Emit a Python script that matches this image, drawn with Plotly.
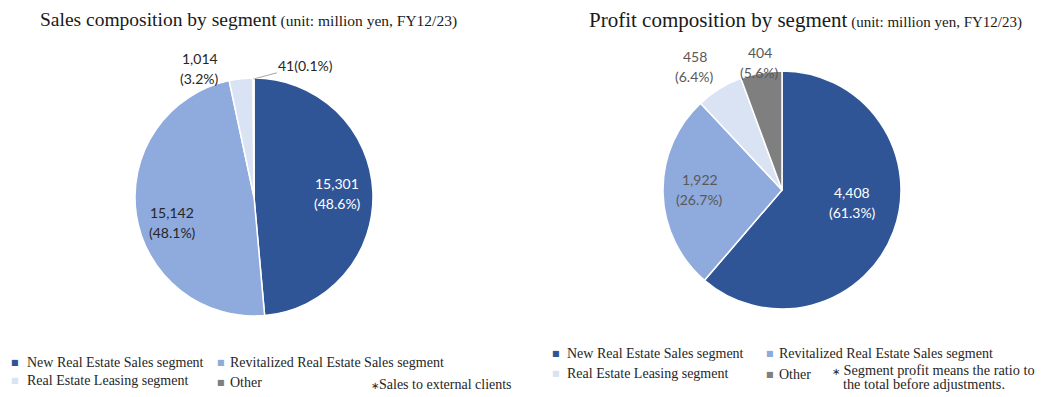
import math
import plotly.graph_objects as go

# ---------------- data ----------------
segments = ["New Real Estate Sales segment", "Revitalized Real Estate Sales segment",
            "Real Estate Leasing segment", "Other"]
sales_values = [15301, 15142, 1014, 41]
sales_pct = [48.6, 48.1, 3.2, 0.1]
profit_values = [4408, 1922, 458, 404]
profit_pct = [61.3, 26.7, 6.4, 5.6]

colors = ["#2F5597", "#8FAADC", "#DAE3F3", "#7F7F7F"]

# the page body has an 8px margin; figure sized to fill the rest of the window
OFF = 8
W, H = 1036, 389

def px(x):
    return (x - OFF) / W

def py(y):
    return 1 - (y - OFF) / H

# layout geometry (screen pixels)
sales_c, sales_r = (254, 197), 119
profit_c, profit_r = (782, 190), 119

# label placement: (radius fraction, angle nudge deg, one_line)
sales_lab = [(0.70, 0, False), (0.72, -8.5, False), (1.175, -16.6, False), (1.19, 21.7, True)]
profit_lab = [(0.60, -10, False), (0.69, 1.3, False), (1.27, -3.6, False), (1.09, 0.3, False)]

fig = go.Figure()


def add_pie(values, center, r, name):
    cx, cy = center
    fig.add_trace(go.Pie(
        labels=segments, values=values, sort=False, direction="clockwise", rotation=0,
        marker=dict(colors=colors, line=dict(color="white", width=1.5)),
        textinfo="none", hoverinfo="label+value+percent", showlegend=False, name=name,
        domain=dict(x=[px(cx - r), px(cx + r)], y=[py(cy + r), py(cy - r)]),
    ))


add_pie(sales_values, sales_c, sales_r, "Sales")
add_pie(profit_values, profit_c, profit_r, "Profit")

annotations = []
LABEL_FONT = "Lato, 'Open Sans', sans-serif"


def add_labels(values, pcts, center, r, place, dark_color):
    cx, cy = center
    total = sum(values)
    cum = 0
    for i, v in enumerate(values):
        mid = (cum + v / 2) / total * 360
        cum += v
        frac, nudge, one_line = place[i]
        ang = math.radians(mid + nudge)
        lx = cx + frac * r * math.sin(ang)
        ly = cy - frac * r * math.cos(ang)
        col = "white" if i == 0 else dark_color
        if one_line:
            # leader line from the slice edge to the label
            ex = cx + (r - 1) * math.sin(math.radians(mid))
            ey = cy - (r - 1) * math.cos(math.radians(mid))
            annotations.append(dict(
                x=px(ex), y=py(ey), xref="paper", yref="paper",
                text=f"{v:,}({pcts[i]}%)", font=dict(family=LABEL_FONT, size=14, color=col),
                showarrow=True, arrowhead=0, arrowwidth=1, arrowcolor="#A6A6A6",
                ax=lx - ex, ay=ly - ey, axref="pixel", ayref="pixel",
                standoff=0, startstandoff=0,
            ))
        else:
            for k, t in enumerate([f"{v:,}", f"({pcts[i]}%)"]):
                annotations.append(dict(
                    x=px(lx), y=py(ly - 10 + 20 * k), xref="paper", yref="paper",
                    text=t, showarrow=False, xanchor="center", yanchor="middle",
                    font=dict(family=LABEL_FONT, size=14, color=col),
                ))


add_labels(sales_values, sales_pct, sales_c, sales_r, sales_lab, "#262626")
add_labels(profit_values, profit_pct, profit_c, profit_r, profit_lab, "#595959")

SERIF = "'Liberation Serif', 'Times New Roman', serif"

# titles
for x0, main, big, small in [(38, "Sales composition by segment", 19.5, 15.5),
                             (587, "Profit composition by segment", 21, 15)]:
    annotations.append(dict(
        x=px(x0), y=py(20), xref="paper", yref="paper", xanchor="left", yanchor="middle",
        showarrow=False, font=dict(family=SERIF, size=big, color="#1a1a1a"),
        text=main + f"<span style='font-size:{small}px'> (unit: million yen, FY12/23)</span>",
    ))

LEG_SIZE = 14

# legends (text + coloured square markers)
def legend_item(mx, tx, y, idx):
    annotations.append(dict(
        x=px(mx), y=py(y), xref="paper", yref="paper", xanchor="center", yanchor="middle",
        showarrow=False, text="■", font=dict(family="DejaVu Sans", size=8, color=colors[idx]),
    ))
    annotations.append(dict(
        x=px(tx), y=py(y), xref="paper", yref="paper", xanchor="left", yanchor="middle",
        showarrow=False, text=segments[idx] if idx < 3 else "Other",
        font=dict(family=SERIF, size=LEG_SIZE, color="#262626"),
    ))

legend_item(15, 25, 362, 0)
legend_item(221, 228, 362, 1)
legend_item(15, 25, 380, 2)
legend_item(221, 228, 382, 3)

legend_item(556, 565, 353, 0)
legend_item(770, 777, 353, 1)
legend_item(556, 565, 373, 2)
legend_item(770, 777, 374, 3)

annotations.append(dict(
    x=px(369), y=py(384), xref="paper", yref="paper", xanchor="left", yanchor="middle",
    showarrow=False, text="<span style='font-size:10px'>∗</span>Sales to external clients",
    font=dict(family=SERIF, size=LEG_SIZE, color="#262626"),
))
annotations.append(dict(
    x=px(830), y=py(369.5), xref="paper", yref="paper", xanchor="left", yanchor="middle",
    showarrow=False, text="<span style='font-size:10px'>∗</span> Segment profit means the ratio to",
    font=dict(family=SERIF, size=14.3, color="#262626"),
))
annotations.append(dict(
    x=px(841), y=py(383.5), xref="paper", yref="paper", xanchor="left", yanchor="middle",
    showarrow=False, text="the total before adjustments.",
    font=dict(family=SERIF, size=14.3, color="#262626"),
))

fig.update_layout(
    width=W, height=H, margin=dict(l=0, r=0, t=0, b=0),
    paper_bgcolor="white", plot_bgcolor="white",
    annotations=annotations, showlegend=False,
)

fig.write_html("out.html")
